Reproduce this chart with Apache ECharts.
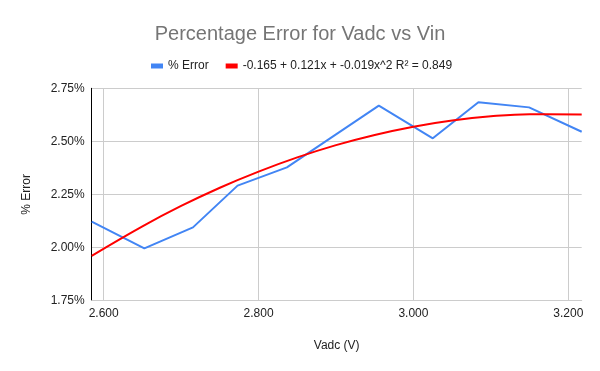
<!DOCTYPE html>
<html>
<head>
<meta charset="utf-8">
<script src="https://cdn.jsdelivr.net/npm/echarts@6/dist/echarts.min.js"></script>
<style>
  html, body { margin: 0; padding: 0; background: #fff; }
  #chart { width: 600px; height: 371px; }
</style>
</head>
<body>
<div id="chart"></div>
<script>
// ---- data ----
const errX = [2.5845, 2.6525, 2.7153, 2.7729, 2.8366, 2.9553, 3.0250, 3.0839, 3.1493, 3.2173];
const errY = [2.121, 1.995, 2.094, 2.291, 2.377, 2.668, 2.514, 2.684, 2.660, 2.545];
const trendX = [2.5845, 2.65, 2.70, 2.75, 2.80, 2.85, 2.90, 2.95, 3.00, 3.05, 3.10, 3.15, 3.2173];
const trendY = [1.960, 2.099, 2.195, 2.281, 2.357, 2.424, 2.482, 2.530, 2.569, 2.598, 2.618, 2.628, 2.627];
const xTicks = [2.6, 2.8, 3.0, 3.2];
const seriesNames = ['% Error', '-0.165 + 0.121x + -0.019x^2 R\u00b2 = 0.849'];

const FONT = '"Liberation Sans", Arial, sans-serif';
const pairs = (xs, ys) => xs.map((x, i) => [x, ys[i]]);

const chart = echarts.init(document.getElementById('chart'), null, { renderer: 'canvas' });
chart.setOption({
  animation: false,
  backgroundColor: '#ffffff',
  textStyle: { fontFamily: FONT },
  title: {
    text: 'Percentage Error for Vadc vs Vin',
    left: 'center',
    top: 19.5,
    textStyle: { fontFamily: FONT, fontSize: 20, fontWeight: 'normal', color: '#757575' }
  },
  legend: {
    top: 55,
    left: 146,
    icon: 'rect',
    itemWidth: 12,
    itemHeight: 5,
    itemGap: 17,
    textStyle: { fontFamily: FONT, fontSize: 12, color: '#222222' },
    data: seriesNames
  },
  grid: { left: 91.7, right: 18.3, top: 88.3, bottom: 70.7, containLabel: false },
  xAxis: {
    type: 'value',
    min: 'dataMin',
    max: 'dataMax',
    name: 'Vadc (V)',
    nameLocation: 'middle',
    nameGap: 39,
    nameTextStyle: { fontFamily: FONT, fontSize: 12, color: '#222222' },
    axisLine: { show: true, lineStyle: { color: '#cccccc' } },
    axisTick: { show: false, customValues: xTicks },
    axisLabel: {
      customValues: xTicks,
      margin: 7,
      fontFamily: FONT, fontSize: 12, color: '#222222',
      formatter: v => v.toFixed(3)
    },
    splitLine: { show: true, lineStyle: { color: '#cccccc', width: 1 } }
  },
  yAxis: {
    type: 'value',
    min: 1.75,
    max: 2.75,
    interval: 0.25,
    name: '% Error',
    nameLocation: 'middle',
    nameGap: 59,
    nameTextStyle: { fontFamily: FONT, fontSize: 12, color: '#222222' },
    axisLine: { show: true, lineStyle: { color: '#000000', width: 1 } },
    axisTick: { show: false },
    axisLabel: {
      margin: 7,
      fontFamily: FONT, fontSize: 12, color: '#222222',
      formatter: v => v.toFixed(2) + '%'
    },
    splitLine: { show: true, lineStyle: { color: '#cccccc', width: 1 } }
  },
  series: [
    {
      name: seriesNames[0],
      type: 'line',
      data: pairs(errX, errY),
      showSymbol: false,
      lineStyle: { color: '#4285F4', width: 2 },
      itemStyle: { color: '#4285F4' },
      z: 2
    },
    {
      name: seriesNames[1],
      type: 'line',
      data: pairs(trendX, trendY),
      showSymbol: false,
      smooth: 0.4,
      lineStyle: { color: '#FF0000', width: 2 },
      itemStyle: { color: '#FF0000' },
      z: 3
    }
  ]
});
</script>
</body>
</html>
